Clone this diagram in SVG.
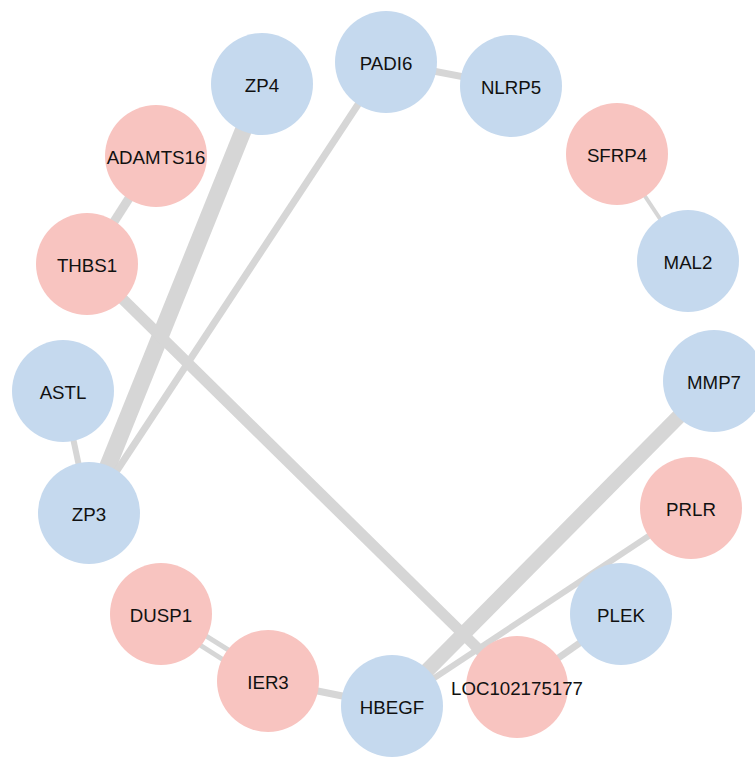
<svg xmlns="http://www.w3.org/2000/svg" width="755" height="757" viewBox="0 0 755 757">
<style>
.e{stroke:#d6d6d6;fill:none;stroke-linecap:butt}
.b{fill:#c5d9ee}
.p{fill:#f8c4c0}
text{font-family:"Liberation Sans",Arial,sans-serif;font-size:18.7px;fill:#111;text-anchor:middle;dominant-baseline:central}
</style>
<rect width="755" height="757" fill="#fff"/>
<g id="edges">
<line class="e" x1="262" y1="84" x2="89" y2="513" stroke-width="17"/>
<line class="e" x1="386" y1="62" x2="89" y2="513" stroke-width="7"/>
<line class="e" x1="386" y1="62" x2="511" y2="86" stroke-width="7"/>
<line class="e" x1="156" y1="156" x2="87" y2="264" stroke-width="9"/>
<line class="e" x1="87" y1="264" x2="517" y2="687" stroke-width="11"/>
<line class="e" x1="617" y1="154" x2="688" y2="261" stroke-width="4"/>
<line class="e" x1="63" y1="391" x2="89" y2="513" stroke-width="6"/>
<line class="e" x1="163" y1="609" x2="270" y2="676" stroke-width="5"/>
<line class="e" x1="159" y1="619" x2="266" y2="687" stroke-width="5"/>
<line class="e" x1="268" y1="681" x2="392" y2="706" stroke-width="7"/>
<line class="e" x1="714" y1="381" x2="392" y2="706" stroke-width="15"/>
<line class="e" x1="691" y1="508" x2="392" y2="706" stroke-width="6"/>
<line class="e" x1="621" y1="614" x2="517" y2="687" stroke-width="7"/>
</g>
<g id="ZP4"><circle class="b" cx="262" cy="84" r="51"/><text x="262" y="85">ZP4</text></g>
<g id="PADI6"><circle class="b" cx="386" cy="62" r="51"/><text x="386" y="63">PADI6</text></g>
<g id="NLRP5"><circle class="b" cx="511" cy="86" r="51"/><text x="511" y="87">NLRP5</text></g>
<g id="SFRP4"><circle class="p" cx="617" cy="154" r="51"/><text x="617" y="155">SFRP4</text></g>
<g id="MAL2"><circle class="b" cx="688" cy="261" r="51"/><text x="688" y="262">MAL2</text></g>
<g id="MMP7"><circle class="b" cx="714" cy="381" r="51"/><text x="714" y="382">MMP7</text></g>
<g id="PRLR"><circle class="p" cx="691" cy="508" r="51"/><text x="691" y="509">PRLR</text></g>
<g id="PLEK"><circle class="b" cx="621" cy="614" r="51"/><text x="621" y="615">PLEK</text></g>
<g id="LOC102175177"><circle class="p" cx="517" cy="687" r="51"/><text x="517" y="688">LOC102175177</text></g>
<g id="HBEGF"><circle class="b" cx="392" cy="706" r="51"/><text x="392" y="707">HBEGF</text></g>
<g id="IER3"><circle class="p" cx="268" cy="681" r="51"/><text x="268" y="682">IER3</text></g>
<g id="DUSP1"><circle class="p" cx="161" cy="614" r="51"/><text x="161" y="615">DUSP1</text></g>
<g id="ZP3"><circle class="b" cx="89" cy="513" r="51"/><text x="89" y="514">ZP3</text></g>
<g id="ASTL"><circle class="b" cx="63" cy="391" r="51"/><text x="63" y="392">ASTL</text></g>
<g id="THBS1"><circle class="p" cx="87" cy="264" r="51"/><text x="87" y="265">THBS1</text></g>
<g id="ADAMTS16"><circle class="p" cx="156" cy="156" r="51"/><text x="156" y="157">ADAMTS16</text></g>
</svg>
